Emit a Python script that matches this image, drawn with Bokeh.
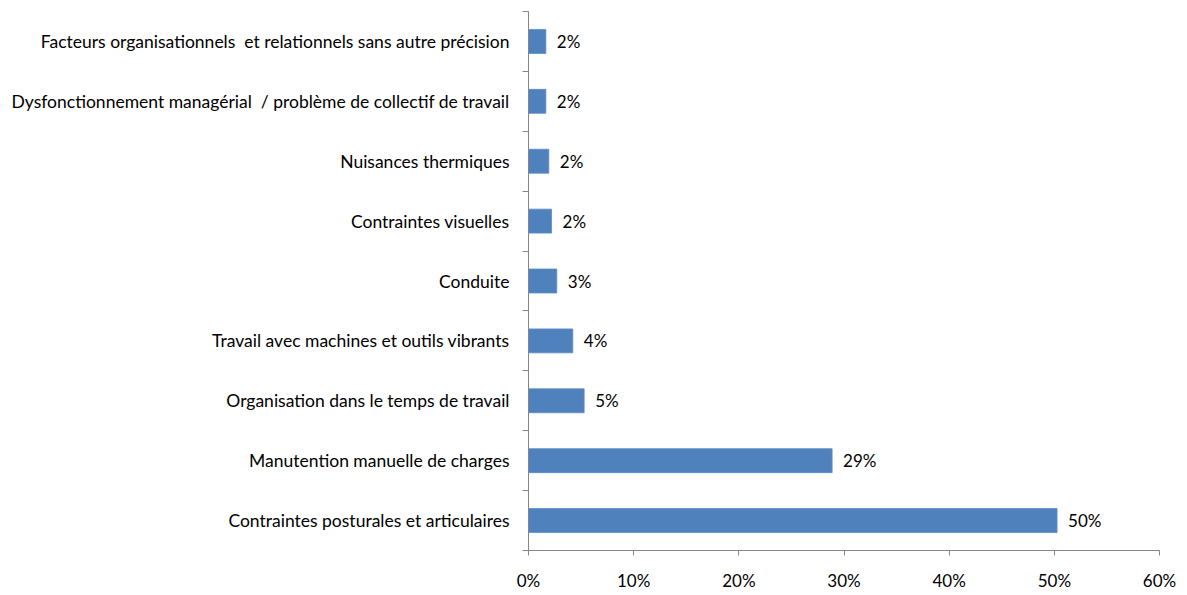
from bokeh.plotting import figure
from bokeh.models import FixedTicker, NumeralTickFormatter, Range1d, ColumnDataSource
from bokeh.core.properties import value
from bokeh.embed import file_html
from bokeh.resources import INLINE

# Data (bottom to top)
categories = [
    "Contraintes posturales et articulaires",
    "Manutention manuelle de charges",
    "Organisation dans le temps de travail",
    "Travail avec machines et outils vibrants",
    "Conduite",
    "Contraintes visuelles",
    "Nuisances thermiques",
    "Dysfonctionnement managérial\u00a0 / problème de collectif de travail",
    "Facteurs organisationnels\u00a0 et relationnels sans autre précision",
]
values = [0.5026, 0.2887, 0.0529, 0.0421, 0.0269, 0.0219, 0.0193, 0.0165, 0.0165]
value_labels = ["50%", "29%", "5%", "4%", "3%", "2%", "2%", "2%", "2%"]
x_ticks = [0.0, 0.1, 0.2, 0.3, 0.4, 0.5, 0.6]

FONT = "Lato"
n = len(categories)
ypos = list(range(n))
src = ColumnDataSource(dict(y=ypos, v=values, lab=value_labels))

p = figure(width=1179, height=593, output_backend="svg", toolbar_location=None,
           x_range=Range1d(0, 0.6), y_range=Range1d(-0.5, n - 0.5),
           min_border_left=528, min_border_right=20, min_border_top=11,
           min_border_bottom=42)
p.outline_line_color = None
p.xgrid.visible = False
p.ygrid.visible = False
p.background_fill_color = "white"
p.border_fill_color = "white"

p.hbar(y="y", right="v", left=0, height=0.4, source=src,
       fill_color="#4F81BD", line_color="#5B8CC6", line_width=0.8)

p.text(x="v", y="y", text="lab", source=src, x_offset=11,
       text_align="left", text_baseline="middle",
       text_font=value(FONT), text_font_size="17px", text_color="#000000")

# X axis
xa = p.xaxis[0]
xa.ticker = FixedTicker(ticks=x_ticks, minor_ticks=[])
xa.formatter = NumeralTickFormatter(format="0%")
xa.axis_line_color = "#868686"
xa.major_tick_line_color = "#868686"
xa.major_tick_out = 5
xa.major_tick_in = 0
xa.minor_tick_line_color = None
xa.major_label_text_font = FONT
xa.major_label_text_font_size = "17px"
xa.major_label_text_color = "#000000"
xa.major_label_standoff = 14

# Y axis: labels at centers, ticks at category boundaries
ya = p.yaxis[0]
ya.ticker = FixedTicker(ticks=ypos, minor_ticks=[i - 0.5 for i in range(n + 1)])
ya.major_label_overrides = {i: categories[i] for i in ypos}
ya.axis_line_color = "#868686"
ya.major_tick_line_color = None
ya.major_tick_out = 0
ya.major_tick_in = 0
ya.minor_tick_line_color = "#868686"
ya.minor_tick_out = 6
ya.minor_tick_in = 0
ya.major_label_text_font = FONT
ya.major_label_text_font_size = "17.5px"
ya.major_label_text_color = "#000000"
ya.major_label_standoff = 13

open("out.html", "w").write(file_html(p, INLINE))
